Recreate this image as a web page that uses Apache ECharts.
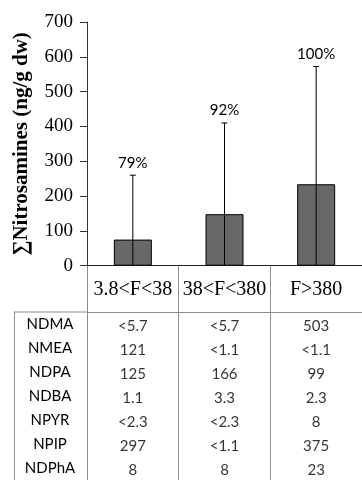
<!DOCTYPE html>
<html>
<head>
<meta charset="utf-8">
<style>html,body{margin:0;padding:0;background:#fff}#c{width:362px;height:480px}</style>
<script src="https://cdn.jsdelivr.net/npm/echarts@6/dist/echarts.min.js"></script>
</head>
<body>
<div id="c"></div>
<script>
// ---- data ----
var categories = ['3.8<F<38', '38<F<380', 'F>380'];
var meanValues = [75, 148, 234];
var upperValues = [260, 410, 572];
var detectionLabels = ['79%', '92%', '100%'];
var yTicks = { min: 0, max: 700, interval: 100 };
var compounds = ['NDMA', 'NMEA', 'NDPA', 'NDBA', 'NPYR', 'NPIP', 'NDPhA'];
var col1 = ['<5.7', '121', '125', '1.1', '<2.3', '297', '8'];
var col2 = ['<5.7', '<1.1', '166', '3.3', '<2.3', '<1.1', '8'];
var col3 = ['503', '<1.1', '99', '2.3', '8', '375', '23'];
var tableCols = [col1, col2, col3];

var SERIF = '"Liberation Serif", "DejaVu Serif", serif';
var SANS = 'Lato, "Open Sans", sans-serif';
var GRID_LINE = '#8c8c8c';

var tableData = [];
tableCols.forEach(function (col, c) {
  col.forEach(function (v, r) { tableData.push([c, r, v]); });
});

var chart = echarts.init(document.getElementById('c'), null, { renderer: 'canvas' });
chart.setOption({
  animation: false,
  backgroundColor: '#fff',
  grid: [
    { left: 87, top: 22, width: 279, height: 243.7 },
    { left: 87, top: 312, width: 279, bottom: 0 }
  ],
  xAxis: [
    {
      gridIndex: 0, type: 'category', data: categories,
      axisLine: { lineStyle: { color: '#222', width: 1 } },
      axisTick: { show: true, length: 47, lineStyle: { color: GRID_LINE } },
      axisLabel: { margin: 14, color: '#000', fontFamily: SERIF, fontSize: 20, interval: 0 },
      splitLine: { show: false }
    },
    {
      gridIndex: 1, type: 'category', data: categories, position: 'top',
      axisLine: { lineStyle: { color: GRID_LINE } },
      axisTick: { show: false }, axisLabel: { show: false },
      splitLine: { show: true, interval: 0, lineStyle: { color: GRID_LINE } }
    }
  ],
  yAxis: [
    {
      gridIndex: 0, type: 'value', min: yTicks.min, max: yTicks.max, interval: yTicks.interval,
      name: '\u2211Nitrosamines (ng/g dw)', nameLocation: 'middle', nameGap: 55,
      nameTextStyle: { fontFamily: SERIF, fontSize: 21, fontWeight: 'bold', color: '#000' },
      axisLine: { show: true, lineStyle: { color: '#333' } },
      axisTick: { show: true, length: 7, lineStyle: { color: '#333' } },
      axisLabel: { margin: 14, color: '#000', fontFamily: SERIF, fontSize: 19 },
      splitLine: { show: false }
    },
    {
      gridIndex: 1, type: 'category', data: compounds, inverse: true, offset: 73,
      axisLine: { show: true, lineStyle: { color: GRID_LINE } },
      axisTick: { show: false },
      axisLabel: { inside: true, margin: 36, align: 'center', padding: [4, 0, 0, 0], color: '#000', fontFamily: SANS, fontSize: 15, interval: 0 },
      splitLine: { show: false }
    }
  ],
  graphic: [
    { type: 'line', shape: { x1: 14, y1: 312, x2: 87, y2: 312 }, style: { stroke: GRID_LINE, lineWidth: 1 } }
  ],
  series: [
    {
      type: 'bar', xAxisIndex: 0, yAxisIndex: 0, data: meanValues, barWidth: 38,
      itemStyle: { color: '#686868', borderColor: '#000', borderWidth: 1 }
    },
    {
      type: 'custom', xAxisIndex: 0, yAxisIndex: 0,
      data: categories.map(function (c, i) { return [i, upperValues[i], detectionLabels[i]]; }),
      encode: { x: 0, y: 1 },
      renderItem: function (params, api) {
        var i = api.value(0);
        var base = api.coord([i, 0]);
        var top = api.coord([i, api.value(1)]);
        var txt = detectionLabels[params.dataIndex];
        return {
          type: 'group',
          children: [
            { type: 'line', shape: { x1: base[0], y1: base[1], x2: top[0], y2: top[1] }, style: { stroke: '#000', lineWidth: 1 } },
            { type: 'line', shape: { x1: top[0] - 3, y1: top[1], x2: top[0] + 3, y2: top[1] }, style: { stroke: '#000', lineWidth: 1 } },
            { type: 'text', style: { text: txt, x: top[0], y: top[1] - 5, align: 'center', verticalAlign: 'bottom', fill: '#000', font: '15px ' + SANS } }
          ]
        };
      },
      z: 3
    },
    {
      type: 'scatter', xAxisIndex: 1, yAxisIndex: 1, data: tableData, symbolSize: 0,
      label: {
        show: true, position: 'inside', offset: [0, 2], color: '#000', fontFamily: SANS, fontSize: 15,
        formatter: function (p) { return p.data[2]; }
      }
    }
  ]
});
</script>
</body>
</html>
